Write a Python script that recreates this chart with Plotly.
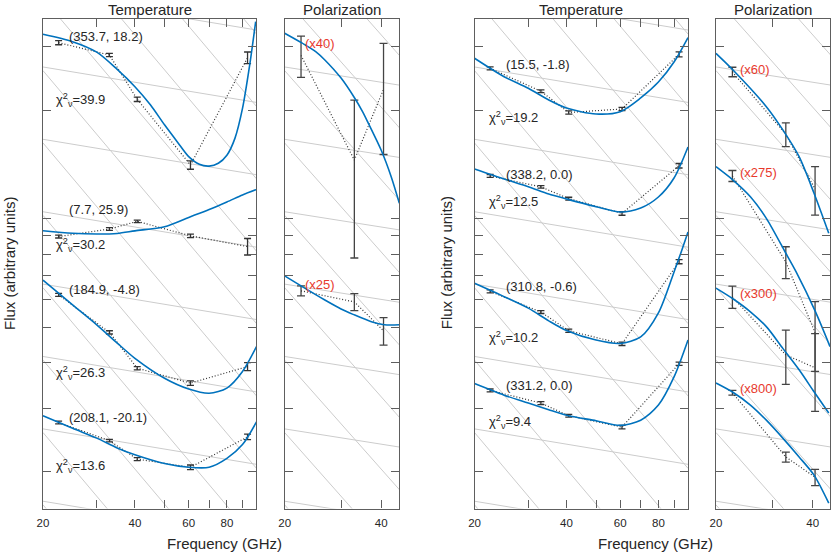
import math
import plotly.graph_objects as go

# observing bands (GHz)
T_FREQ = [22.5, 33.0, 40.7, 60.8, 93.5]
P_FREQ = [22.5, 33.0, 40.7]
FIT_NU = [20, 25, 30, 35, 40, 50, 60, 70, 80, 90, 100]

# left temperature panel (top to bottom)
tl_obs_a = [30.69, 28.38, 21.41, 14.10, 27.9]
tl_err_a = [0.4, 0.3, 0.3, 0.38, 1.03]
tl_fit_nu_a = [20, 25, 30, 35, 40, 45, 50, 55, 60, 65, 70, 75, 80, 85, 90, 95, 99.4]
tl_fit_a = [32.4, 30.9, 28.9, 25.9, 23.2, 20.65, 18.2, 16.35, 14.86, 14.16, 14.0, 14.25, 15.0, 16.7, 20.2, 26.6, 35.1]
tl_obs_b = [8.94, 9.38, 9.85, 8.98, 8.39]
tl_err_b = [0.08, 0.08, 0.08, 0.1, 0.44]
tl_fit_b = [9.28, 9.13, 9.09, 9.12, 9.27, 9.52, 10.1, 10.62, 11.14, 11.65, 12.06]
tl_obs_c = [6.17, 4.86, 3.87, 3.52, 3.91]
tl_err_c = [0.06, 0.05, 0.04, 0.05, 0.1]
tl_fit_c = [6.78, 5.79, 5.10, 4.54, 4.12, 3.63, 3.39, 3.30, 3.41, 3.79, 4.44]
tl_obs_d = [2.74, 2.44, 2.17, 2.06, 2.50]
tl_err_d = [0.025, 0.02, 0.02, 0.03, 0.045]
tl_fit_d = [2.86, 2.64, 2.48, 2.33, 2.23, 2.11, 2.06, 2.06, 2.18, 2.38, 2.75]

# right temperature panel
tr_obs_a = [26.08, 22.53, 19.69, 20.13, 28.51]
tr_err_a = [0.25, 0.2, 0.2, 0.2, 0.45]
tr_fit_a = [27.8, 24.72, 22.96, 21.32, 20.26, 19.50, 19.79, 21.6, 23.9, 27.15, 31.72]
tr_obs_b = [13.15, 12.26, 11.38, 10.36, 14.03]
tr_err_b = [0.12, 0.1, 0.1, 0.12, 0.2]
tr_fit_b = [13.75, 12.90, 12.28, 11.72, 11.36, 10.81, 10.45, 10.72, 11.50, 12.98, 15.81]
tr_obs_c = [6.31, 5.53, 4.91, 4.52, 7.62]
tr_err_c = [0.06, 0.05, 0.05, 0.05, 0.1]
tr_fit_nu_c = [20, 25, 30, 35, 40, 50, 60, 70, 80, 90, 95, 100]
tr_fit_c = [6.64, 6.10, 5.67, 5.23, 4.92, 4.63, 4.53, 4.72, 5.50, 7.14, 8.11, 9.21]
tr_obs_d = [3.36, 3.10, 2.86, 2.66, 3.98]
tr_err_d = [0.03, 0.03, 0.025, 0.03, 0.04]
tr_fit_d = [3.51, 3.26, 3.10, 2.97, 2.87, 2.77, 2.69, 2.78, 3.06, 3.66, 4.63]

# left polarization panel
pl_obs_a = [28.3, 14.55, 22.82]
pl_err_a = [3.7, 6.75, 7.75]
pl_fit_nu_a = [20, 22.7, 25, 26.7, 30, 33.1, 35, 36.5, 40, 43, 45.6]
pl_fit_a = [32.6, 30.6, 29.0, 27.5, 24.5, 21.55, 19.8, 18.38, 15.51, 13.09, 11.05]
pl_obs_b = [6.33, 5.90, 4.91]
pl_err_b = [0.2, 0.32, 0.43]
pl_fit_nu_b = [20, 22.7, 26.7, 30, 32.7, 37.3, 41, 45.6]
pl_fit_b = [6.96, 6.50, 5.97, 5.64, 5.45, 5.20, 5.10, 5.10]

# right polarization panel
pr_obs_a = [25.48, 17.14, 12.10]
pr_err_a = [0.77, 1.3, 1.85]
pr_fit_nu_a = [20, 22.6, 28.7, 32.3, 36.3, 40.4, 44.9]
pr_fit_a = [28.69, 25.80, 20.43, 17.62, 14.86, 11.78, 9.13]
pr_obs_b = [13.15, 7.61, 4.85]
pr_err_b = [0.46, 0.77, 1.06]
pr_fit_nu_b = [20, 22.6, 25.6, 28.7, 33.0, 35.5, 40.7, 45.3]
pr_fit_b = [13.95, 12.81, 11.52, 10.04, 8.04, 7.15, 5.57, 4.44]
pr_obs_c = [6.09, 4.21, 3.88]
pr_err_c = [0.43, 0.72, 0.94]
pr_fit_nu_c = [20, 22.7, 25.6, 28.7, 32.3, 36.3, 40.4, 44.9]
pr_fit_c = [6.44, 6.00, 5.54, 5.04, 4.39, 3.83, 3.33, 2.91]
pr_obs_d = [3.31, 2.20, 1.934]
pr_err_d = [0.05, 0.07, 0.1]
pr_fit_d = [3.52, 3.31, 3.06, 2.78, 2.48, 2.20, 1.96, 1.64]

# background power-law guide lines, values at 20 and 100 GHz
GUIDE_NU = [20, 100]
flat_at20 = [1.660, 2.630, 4.169, 6.607, 10.47, 16.60, 26.30, 41.69]
flat_at100 = [1.325, 2.099, 3.327, 5.273, 8.356, 13.25, 20.99, 33.27]
steep_at20 = [1.622, 2.570, 4.074, 6.457, 10.23, 16.22, 25.70, 40.74, 64.57, 102.3, 162.2]
steep_at100 = [0.324, 0.514, 0.815, 1.291, 2.046, 3.244, 5.14, 8.15, 12.91, 20.46, 32.44]

# labels
tl_labels = ["(353.7, 18.2)", "(7.7, 25.9)", "(184.9, -4.8)", "(208.1, -20.1)"]
tl_label_y = [31.9, 10.59, 6.37, 2.83]
tl_chi = ["39.9", "30.2", "26.3", "13.6"]
tl_chi_y = [21.3, 8.48, 3.75, 2.08]
tr_labels = ["(15.5, -1.8)", "(338.2, 0.0)", "(310.8, -0.6)", "(331.2, 0.0)"]
tr_label_y = [26.75, 13.29, 6.50, 3.46]
tr_chi = ["19.2", "12.5", "10.2", "9.4"]
tr_chi_y = [18.97, 11.16, 4.70, 2.75]
pl_scale = ["(x40)", "(x25)"]
pl_scale_y = [30.44, 6.57]
pr_scale = ["(x60)", "(x275)", "(x300)", "(x800)"]
pr_scale_y = [25.91, 13.43, 6.21, 3.41]

BLUE = "#0072BD"
GUIDE = "#cccccc"
FRAME = "#5e5e5e"
RED = "#e8392d"
TEXT = "#262626"

W, H = 831, 553
fig = go.Figure()


def add_guides(ax):
    for a, b in zip(flat_at20 + steep_at20, flat_at100 + steep_at100):
        fig.add_trace(go.Scatter(x=GUIDE_NU, y=[a, b], mode="lines", xaxis="x" + ax, yaxis="y" + ax,
                                 line=dict(color=GUIDE, width=1), hoverinfo="skip"))


def add_series(ax, nu, obs, err, fit_nu, fit, cap, ecolor):
    fig.add_trace(go.Scatter(x=nu, y=obs, mode="lines", xaxis="x" + ax, yaxis="y" + ax,
                             line=dict(color="#333333", width=1.2, dash="1px,2px"),
                             error_y=dict(type="data", array=err, visible=True, color=ecolor,
                                          thickness=1.3, width=cap)))
    fig.add_trace(go.Scatter(x=fit_nu, y=fit, mode="lines", xaxis="x" + ax, yaxis="y" + ax,
                             line=dict(color=BLUE, width=1.6, shape="spline", smoothing=0.8)))


for ax in ["", "2", "3", "4"]:
    add_guides(ax)

add_series("", T_FREQ, tl_obs_a, tl_err_a, tl_fit_nu_a, tl_fit_a, 3.5, "#333333")
add_series("", T_FREQ, tl_obs_b, tl_err_b, FIT_NU, tl_fit_b, 3.5, "#333333")
add_series("", T_FREQ, tl_obs_c, tl_err_c, FIT_NU, tl_fit_c, 3.5, "#333333")
add_series("", T_FREQ, tl_obs_d, tl_err_d, FIT_NU, tl_fit_d, 3.5, "#333333")
add_series("2", P_FREQ, pl_obs_a, pl_err_a, pl_fit_nu_a, pl_fit_a, 4, "#444444")
add_series("2", P_FREQ, pl_obs_b, pl_err_b, pl_fit_nu_b, pl_fit_b, 4, "#444444")
add_series("3", T_FREQ, tr_obs_a, tr_err_a, FIT_NU, tr_fit_a, 3.5, "#333333")
add_series("3", T_FREQ, tr_obs_b, tr_err_b, FIT_NU, tr_fit_b, 3.5, "#333333")
add_series("3", T_FREQ, tr_obs_c, tr_err_c, tr_fit_nu_c, tr_fit_c, 3.5, "#333333")
add_series("3", T_FREQ, tr_obs_d, tr_err_d, FIT_NU, tr_fit_d, 3.5, "#333333")
add_series("4", P_FREQ, pr_obs_a, pr_err_a, pr_fit_nu_a, pr_fit_a, 4, "#444444")
add_series("4", P_FREQ, pr_obs_b, pr_err_b, pr_fit_nu_b, pr_fit_b, 4, "#444444")
add_series("4", P_FREQ, pr_obs_c, pr_err_c, pr_fit_nu_c, pr_fit_c, 4, "#444444")
add_series("4", P_FREQ, pr_obs_d, pr_err_d, pr_fit_nu_c, pr_fit_d, 4, "#444444")

annotations = []


def note(ax, nu, y, text, color=TEXT):
    annotations.append(dict(x=math.log10(nu), y=math.log10(y), xref="x" + ax, yref="y" + ax,
                            text=text, showarrow=False, xanchor="left", yanchor="middle",
                            font=dict(size=13, color=color)))


for t, y in zip(tl_labels, tl_label_y):
    note("", 24.0, y, t)
for t, y in zip(tl_chi, tl_chi_y):
    note("", 21.7, y, "χ<sup>2</sup><sub>ν</sub>=" + t)
for t, y in zip(tr_labels, tr_label_y):
    note("3", 24.9, y, t)
for t, y in zip(tr_chi, tr_chi_y):
    note("3", 22.0, y, "χ<sup>2</sup><sub>ν</sub>=" + t)
for t, y in zip(pl_scale, pl_scale_y):
    note("2", 22.9, y, t, RED)
for t, y in zip(pr_scale, pr_scale_y):
    note("4", 23.5, y, t, RED)

# panel titles and axis titles (pixel positions converted to paper)
for text, px in [("Temperature", 145), ("Polarization", 339), ("Temperature", 580), ("Polarization", 774)]:
    annotations.append(dict(x=px / W, y=1 - 9 / H, xref="paper", yref="paper", text=text,
                            showarrow=False, xanchor="center", yanchor="middle", font=dict(size=15)))
for px in [220, 655]:
    annotations.append(dict(x=px / W, y=1 - 543 / H, xref="paper", yref="paper", text="Frequency (GHz)",
                            showarrow=False, xanchor="center", yanchor="middle", font=dict(size=15)))
for px in [3, 444]:
    annotations.append(dict(x=px / W, y=1 - 263 / H, xref="paper", yref="paper", text="Flux (arbitrary units)",
                            showarrow=False, textangle=-90, xanchor="center", yanchor="middle",
                            font=dict(size=15)))

xdomains = {"": [37.3, 252.6], "2": [281, 396.7], "3": [472.5, 687.8], "4": [716, 831]}
xranges = {"": [20, 100], "2": [20, 45.6], "3": [20, 100], "4": [20, 45.3]}
temp_ticks = [20, 40, 60, 80]
temp_minor = [30, 50, 70, 90]
pol_ticks = [20, 40]
pol_minor = [30]
y_ticks = [2, 3, 4, 5, 6, 7, 8, 9, 10, 20, 30]

layout = dict(width=W, height=H, margin=dict(l=0, r=0, t=0, b=0), showlegend=False,
              plot_bgcolor="white", paper_bgcolor="white",
              font=dict(family="Liberation Sans, Arial, sans-serif", color=TEXT),
              annotations=annotations)
for ax, (a, b) in xdomains.items():
    lo, hi = xranges[ax]
    is_temp = ax in ("", "3")
    layout["xaxis" + ax] = dict(type="log", domain=[a / W, b / W], range=[math.log10(lo), math.log10(hi)],
                                anchor="y" + ax, showgrid=False, zeroline=False, showline=True,
                                linecolor=FRAME, linewidth=1.3, mirror="ticks", ticks="inside",
                                ticklen=8, tickcolor=FRAME, tickwidth=1.1, ticklabelstandoff=4,
                                tickvals=temp_ticks if is_temp else pol_ticks,
                                minor=dict(tickvals=temp_minor if is_temp else pol_minor, ticks="inside",
                                           ticklen=8, tickcolor=FRAME, tickwidth=1.1, showgrid=False),
                                tickfont=dict(size=11.5, color=TEXT))
    layout["yaxis" + ax] = dict(type="log", domain=[1 - 508.5 / H, 1 - 19 / H], range=[0.2, 1.5525],
                                anchor="x" + ax, showgrid=False, zeroline=False, showline=True,
                                linecolor=FRAME, linewidth=1.3, mirror="ticks", ticks="inside",
                                ticklen=8, tickcolor=FRAME, tickwidth=1.1, tickvals=y_ticks,
                                showticklabels=False)
fig.update_layout(**layout)

fig.write_html("out.html", config={"displayModeBar": False},
               post_script="document.body.style.margin='0px';")
